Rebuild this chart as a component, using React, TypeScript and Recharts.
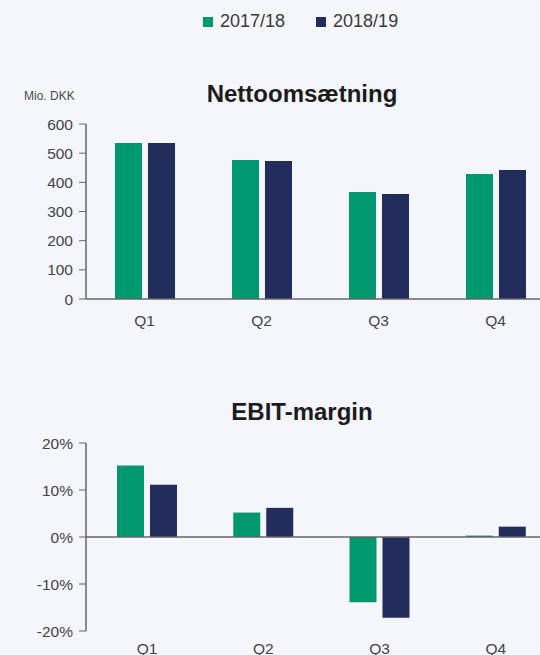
import { BarChart, Bar, XAxis, YAxis, ReferenceLine } from "recharts";

const quarters = ["Q1", "Q2", "Q3", "Q4"];
const seriesNames = ["2017/18", "2018/19"];
const revenue1718 = [535, 477, 367, 429];
const revenue1819 = [535, 473, 360, 442];
const ebit1718 = [15.2, 5.2, -13.9, 0.3];
const ebit1819 = [11.1, 6.2, -17.2, 2.2];
const revenueTicks = [0, 100, 200, 300, 400, 500, 600];
const ebitTicks = [-20, -10, 0, 10, 20];

const GREEN = "#00996f";
const NAVY = "#232d5b";
const BG = "#f5f6fb";
const AXIS = "#666666";
const FONT = "'Liberation Sans', Arial, sans-serif";

const revenueData = quarters.map((q, i) => ({
  q,
  a: revenue1718[i],
  b: revenue1819[i],
}));
const ebitData = quarters.map((q, i) => ({
  q,
  a: ebit1718[i],
  b: ebit1819[i],
}));

const tickStyle = { fill: "#444444", fontSize: 15.5, fontFamily: FONT };

const titleStyle: React.CSSProperties = {
  position: "absolute",
  left: 202,
  width: 200,
  textAlign: "center",
  fontSize: 24,
  fontWeight: 700,
  color: "#1c1c1c",
  fontFamily: FONT,
  whiteSpace: "nowrap",
};

export default function App() {
  return (
    <div
      style={{
        position: "absolute",
        left: 0,
        top: 0,
        width: 540,
        height: 655,
        overflow: "hidden",
        background: BG,
        fontFamily: FONT,
      }}
    >
      {/* legend */}
      <div
        style={{
          position: "absolute",
          top: 11,
          left: 203,
          display: "flex",
          alignItems: "center",
          fontSize: 18,
          color: "#3a3a3a",
        }}
      >
        {seriesNames.map((name, i) => (
          <div
            key={name}
            style={{
              display: "flex",
              alignItems: "center",
              marginRight: i === 0 ? 31 : 0,
            }}
          >
            <span
              style={{
                width: 10,
                height: 10,
                background: i === 0 ? GREEN : NAVY,
                display: "inline-block",
                marginRight: 7,
              }}
            />
            <span>{name}</span>
          </div>
        ))}
      </div>

      <div
        style={{
          position: "absolute",
          left: 24,
          top: 89,
          fontSize: 12,
          color: "#4a4a4a",
        }}
      >
        Mio. DKK
      </div>
      <div style={{ ...titleStyle, top: 80 }}>Nettoomsætning</div>

      <div style={{ position: "absolute", left: 0, top: 110 }}>
        <BarChart
          width={560}
          height={230}
          data={revenueData}
          margin={{ top: 14, right: 6, left: 26, bottom: 11 }}
          barSize={27}
          barGap={6}
        >
          <XAxis
            dataKey="q"
            tickLine={false}
            axisLine={{ stroke: AXIS, strokeWidth: 1.5 }}
            tick={tickStyle}
            tickMargin={10}
          />
          <YAxis
            domain={[0, 600]}
            ticks={revenueTicks}
            axisLine={{ stroke: AXIS, strokeWidth: 1.5 }}
            tickLine={{ stroke: AXIS }}
            tickSize={7}
            tickMargin={6}
            tick={tickStyle}
            width={60}
          />
          <Bar dataKey="a" fill={GREEN} isAnimationActive={false} />
          <Bar dataKey="b" fill={NAVY} isAnimationActive={false} />
        </BarChart>
      </div>

      <div style={{ ...titleStyle, top: 398 }}>EBIT-margin</div>

      <div style={{ position: "absolute", left: 0, top: 430 }}>
        <BarChart
          width={560}
          height={231}
          data={ebitData}
          margin={{ top: 13, right: 6, left: 26, bottom: 0 }}
          barSize={27}
          barGap={6}
        >
          <XAxis
            dataKey="q"
            tickLine={false}
            axisLine={false}
            tick={tickStyle}
            tickMargin={6}
            padding={{ left: 3, right: 0 }}
          />
          <YAxis
            domain={[-20, 20]}
            ticks={ebitTicks}
            axisLine={{ stroke: AXIS, strokeWidth: 1.5 }}
            tickLine={{ stroke: AXIS }}
            tickSize={7}
            tickMargin={6}
            tick={tickStyle}
            tickFormatter={(v: number) => `${v}%`}
            width={60}
          />
          <ReferenceLine y={0} stroke={AXIS} strokeWidth={1.5} />
          <Bar dataKey="a" fill={GREEN} isAnimationActive={false} />
          <Bar dataKey="b" fill={NAVY} isAnimationActive={false} />
        </BarChart>
      </div>
    </div>
  );
}
